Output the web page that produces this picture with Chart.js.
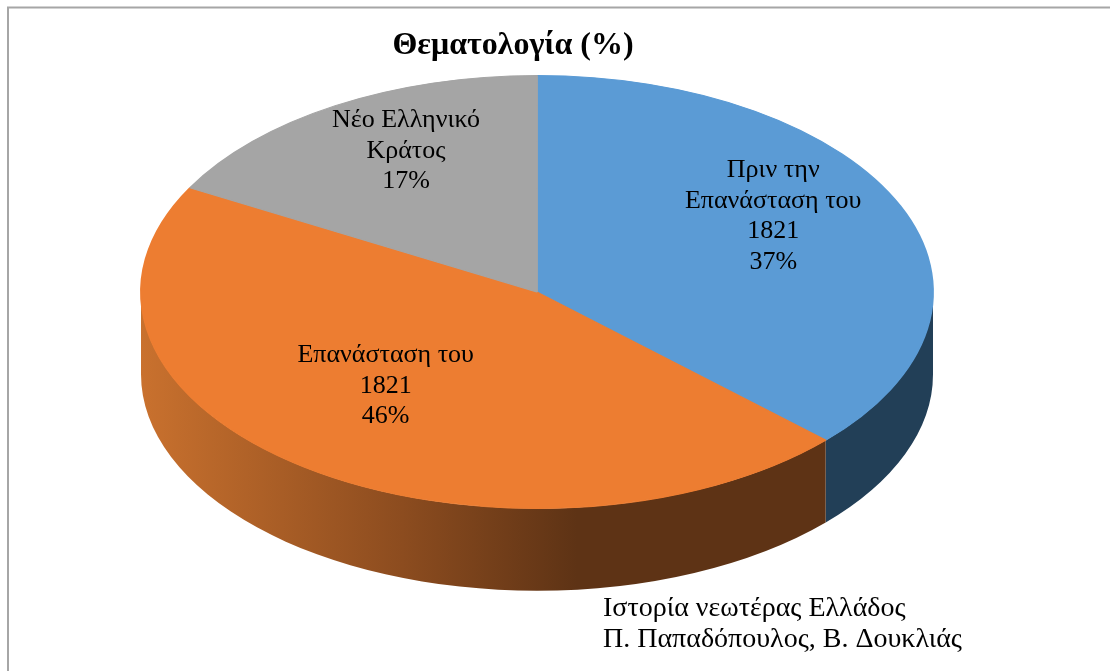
<!DOCTYPE html>
<html>
<head>
<meta charset="utf-8">
<script src="https://cdn.jsdelivr.net/npm/chart.js@4"></script>
<style>
    html, body { margin: 0; padding: 0; background: #fff; }
    #wrap { width: 1110px; height: 671px; position: relative; }
</style>
</head>
<body>
<div id="wrap"><canvas id="themeChart" width="1110" height="671"></canvas></div>
<script>
// data
var categories = [
    ['Πριν την', 'Επανάσταση του', '1821'],
    ['Επανάσταση του', '1821'],
    ['Νέο Ελληνικό', 'Κράτος']
];
var shares = [37, 46, 17];
var chartTitle = 'Θεματολογία (%)';
var sourceLines = ['Ιστορία νεωτέρας Ελλάδος', 'Π. Παπαδόπουλος, Β. Δουκλιάς'];

var topColors = ['#5b9bd5', '#ed7d31', '#a5a5a5'];
var sideColors = ['#223f57', null, '#636363'];

var DEPTH = 0.38;      // side height, as a part of the radius
var LABEL_AT = 0.65;   // label position along the radius

function pieGeom(chart) {
    var meta = chart.getDatasetMeta(0);
    var a0 = meta.data[0];
    var area = chart.chartArea;
    var r = a0.outerRadius;
    return {
        meta: meta,
        x: a0.x,
        y: a0.y,
        r: r,
        k: (area.right - area.left) / 2 / r
    };
}

var tiltPlugin = {
    id: 'tilt',
    beforeDraw: function (chart) {
        var ctx = chart.ctx;
        ctx.save();
        ctx.strokeStyle = '#a6a6a6';
        ctx.lineWidth = 2;
        ctx.beginPath();
        ctx.moveTo(8, 671);
        ctx.lineTo(8, 7.5);
        ctx.lineTo(1110, 7.5);
        ctx.stroke();
        ctx.restore();
    },
    beforeDatasetsDraw: function (chart) {
        var ctx = chart.ctx;
        var g = pieGeom(chart);
        var rx = g.r * g.k, ry = g.r, dh = g.r * DEPTH;

        // outer walls of the front half
        g.meta.data.forEach(function (arc, i) {
            var s = Math.max(arc.startAngle, 0);
            var e = Math.min(arc.endAngle, Math.PI);
            if (e <= s) return;
            ctx.save();
            ctx.beginPath();
            ctx.ellipse(g.x, g.y, rx, ry, 0, s, e, false);
            ctx.lineTo(g.x + rx * Math.cos(e), g.y + ry * Math.sin(e) + dh);
            ctx.ellipse(g.x, g.y + dh, rx, ry, 0, e, s, true);
            ctx.closePath();
            if (sideColors[i]) {
                ctx.fillStyle = sideColors[i];
            } else {
                var grad = ctx.createLinearGradient(g.x - rx, 0, g.x + rx, 0);
                grad.addColorStop(0, '#c9712e');
                grad.addColorStop(0.33, '#8c4c1f');
                grad.addColorStop(0.55, '#5e3315');
                grad.addColorStop(1, '#5e3315');
                ctx.fillStyle = grad;
            }
            ctx.fill();
            ctx.restore();
        });

        // squash the library's round pie into the top face
        ctx.save();
        ctx.translate(g.x, g.y);
        ctx.scale(g.k, 1);
        ctx.translate(-g.x, -g.y);
    },
    afterDatasetsDraw: function (chart) {
        var ctx = chart.ctx;
        ctx.restore();

        var g = pieGeom(chart);
        var rx = g.r * g.k, ry = g.r;

        ctx.save();
        ctx.fillStyle = '#000';
        ctx.textAlign = 'center';
        ctx.textBaseline = 'middle';

        ctx.font = 'bold 32px "Liberation Serif"';
        ctx.fillText(chartTitle, 513, 46);

        ctx.font = '26px "Liberation Serif"';
        var lh = 30.5;
        g.meta.data.forEach(function (arc, i) {
            var mid = (arc.startAngle + arc.endAngle) / 2;
            var px = g.x + rx * LABEL_AT * Math.cos(mid);
            var py = g.y + ry * LABEL_AT * Math.sin(mid) - 20;
            var lines = categories[i].concat([shares[i] + '%']);
            var y0 = py - (lines.length - 1) * lh / 2;
            lines.forEach(function (t, j) {
                ctx.fillText(t, px, y0 + j * lh);
            });
        });

        ctx.textAlign = 'left';
        ctx.font = '28px "Liberation Serif"';
        sourceLines.forEach(function (t, j) {
            ctx.fillText(t, 603, 609 + j * 31);
        });
        ctx.restore();
    }
};

var ctx = document.getElementById('themeChart').getContext('2d');
var themeChart = new Chart(ctx, {
    type: 'pie',
    data: {
        labels: categories.map(function (c) { return c.join(' '); }),
        datasets: [{
            data: shares,
            backgroundColor: topColors,
            borderColor: topColors,
            borderWidth: 1,
            clip: false
        }]
    },
    options: {
        responsive: false,
        animation: false,
        layout: {
            padding: { left: 141, right: 177, top: 75, bottom: 162 }
        },
        plugins: {
            legend: { display: false },
            tooltip: { enabled: false },
            title: { display: false }
        }
    },
    plugins: [tiltPlugin]
});
</script>
</body>
</html>
